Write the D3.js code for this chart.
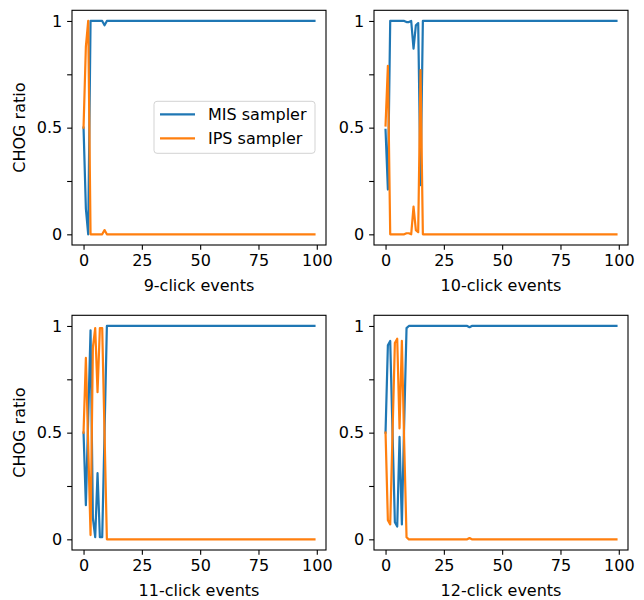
<!DOCTYPE html>
<html>
<head>
<meta charset="utf-8">
<script src="https://cdn.jsdelivr.net/npm/d3@7"></script>
<style>
  body { margin: 0; background: white; }
  text { font-family: "DejaVu Sans", sans-serif; }
</style>
</head>
<body>
<svg id="chart"></svg>
<script>
// CHOG ratio per event index (0..99)
let mis9 = [
  0.5, 0.12, 0, 1, 1, 1, 1, 1, 1, 0.98, 1, 1, 1, 1, 1, 1, 1, 1, 1, 1,
  1, 1, 1, 1, 1, 1, 1, 1, 1, 1, 1, 1, 1, 1, 1, 1, 1, 1, 1, 1,
  1, 1, 1, 1, 1, 1, 1, 1, 1, 1, 1, 1, 1, 1, 1, 1, 1, 1, 1, 1,
  1, 1, 1, 1, 1, 1, 1, 1, 1, 1, 1, 1, 1, 1, 1, 1, 1, 1, 1, 1,
  1, 1, 1, 1, 1, 1, 1, 1, 1, 1, 1, 1, 1, 1, 1, 1, 1, 1, 1, 1
]
let ips9 = [
  0.5, 0.88, 1, 0, 0, 0, 0, 0, 0, 0.02, 0, 0, 0, 0, 0, 0, 0, 0, 0, 0,
  0, 0, 0, 0, 0, 0, 0, 0, 0, 0, 0, 0, 0, 0, 0, 0, 0, 0, 0, 0,
  0, 0, 0, 0, 0, 0, 0, 0, 0, 0, 0, 0, 0, 0, 0, 0, 0, 0, 0, 0,
  0, 0, 0, 0, 0, 0, 0, 0, 0, 0, 0, 0, 0, 0, 0, 0, 0, 0, 0, 0,
  0, 0, 0, 0, 0, 0, 0, 0, 0, 0, 0, 0, 0, 0, 0, 0, 0, 0, 0, 0
]
let mis10 = [
  0.49, 0.21, 1, 1, 1, 1, 1, 1, 1, 0.995, 0.995, 1, 0.87, 0.98, 0.99, 0.23, 1, 1, 1, 1,
  1, 1, 1, 1, 1, 1, 1, 1, 1, 1, 1, 1, 1, 1, 1, 1, 1, 1, 1, 1,
  1, 1, 1, 1, 1, 1, 1, 1, 1, 1, 1, 1, 1, 1, 1, 1, 1, 1, 1, 1,
  1, 1, 1, 1, 1, 1, 1, 1, 1, 1, 1, 1, 1, 1, 1, 1, 1, 1, 1, 1,
  1, 1, 1, 1, 1, 1, 1, 1, 1, 1, 1, 1, 1, 1, 1, 1, 1, 1, 1, 1
]
let ips10 = [
  0.51, 0.79, 0, 0, 0, 0, 0, 0, 0, 0.005, 0.005, 0, 0.13, 0.02, 0.01, 0.77, 0, 0, 0, 0,
  0, 0, 0, 0, 0, 0, 0, 0, 0, 0, 0, 0, 0, 0, 0, 0, 0, 0, 0, 0,
  0, 0, 0, 0, 0, 0, 0, 0, 0, 0, 0, 0, 0, 0, 0, 0, 0, 0, 0, 0,
  0, 0, 0, 0, 0, 0, 0, 0, 0, 0, 0, 0, 0, 0, 0, 0, 0, 0, 0, 0,
  0, 0, 0, 0, 0, 0, 0, 0, 0, 0, 0, 0, 0, 0, 0, 0, 0, 0, 0, 0
]
let mis11 = [
  0.5, 0.16, 0.57, 0.98, 0.1, 0.01, 0.31, 0.01, 0.01, 0.5, 1, 1, 1, 1, 1, 1, 1, 1, 1, 1,
  1, 1, 1, 1, 1, 1, 1, 1, 1, 1, 1, 1, 1, 1, 1, 1, 1, 1, 1, 1,
  1, 1, 1, 1, 1, 1, 1, 1, 1, 1, 1, 1, 1, 1, 1, 1, 1, 1, 1, 1,
  1, 1, 1, 1, 1, 1, 1, 1, 1, 1, 1, 1, 1, 1, 1, 1, 1, 1, 1, 1,
  1, 1, 1, 1, 1, 1, 1, 1, 1, 1, 1, 1, 1, 1, 1, 1, 1, 1, 1, 1
]
let ips11 = [
  0.5, 0.85, 0.44, 0.02, 0.9, 0.99, 0.69, 0.99, 0.99, 0.5, 0, 0, 0, 0, 0, 0, 0, 0, 0, 0,
  0, 0, 0, 0, 0, 0, 0, 0, 0, 0, 0, 0, 0, 0, 0, 0, 0, 0, 0, 0,
  0, 0, 0, 0, 0, 0, 0, 0, 0, 0, 0, 0, 0, 0, 0, 0, 0, 0, 0, 0,
  0, 0, 0, 0, 0, 0, 0, 0, 0, 0, 0, 0, 0, 0, 0, 0, 0, 0, 0, 0,
  0, 0, 0, 0, 0, 0, 0, 0, 0, 0, 0, 0, 0, 0, 0, 0, 0, 0, 0, 0
]
let mis12 = [
  0.5, 0.91, 0.93, 0.5, 0.08, 0.06, 0.48, 0.07, 0.55, 0.99, 1, 1, 1, 1, 1, 1, 1, 1, 1, 1,
  1, 1, 1, 1, 1, 1, 1, 1, 1, 1, 1, 1, 1, 1, 1, 1, 0.994, 1, 1, 1,
  1, 1, 1, 1, 1, 1, 1, 1, 1, 1, 1, 1, 1, 1, 1, 1, 1, 1, 1, 1,
  1, 1, 1, 1, 1, 1, 1, 1, 1, 1, 1, 1, 1, 1, 1, 1, 1, 1, 1, 1,
  1, 1, 1, 1, 1, 1, 1, 1, 1, 1, 1, 1, 1, 1, 1, 1, 1, 1, 1, 1
]
let ips12 = [
  0.5, 0.09, 0.07, 0.5, 0.92, 0.94, 0.52, 0.93, 0.45, 0.01, 0, 0, 0, 0, 0, 0, 0, 0, 0, 0,
  0, 0, 0, 0, 0, 0, 0, 0, 0, 0, 0, 0, 0, 0, 0, 0, 0.006, 0, 0, 0,
  0, 0, 0, 0, 0, 0, 0, 0, 0, 0, 0, 0, 0, 0, 0, 0, 0, 0, 0, 0,
  0, 0, 0, 0, 0, 0, 0, 0, 0, 0, 0, 0, 0, 0, 0, 0, 0, 0, 0, 0,
  0, 0, 0, 0, 0, 0, 0, 0, 0, 0, 0, 0, 0, 0, 0, 0, 0, 0, 0, 0
]

let seriesNames = ['MIS sampler', 'IPS sampler']
let panelLabels = ['9-click events', '10-click events', '11-click events', '12-click events']
let xTickValues = [0, 25, 50, 75, 100]
let yTickValues = [0, 0.25, 0.5, 0.75, 1]
let yTickLabels = ['0', '', '0.5', '', '1']
let yLabel = 'CHOG ratio'

let colors = ['#1f77b4', '#ff7f0e']
let fontSize = 16

let panels = [
  {mis: mis9, ips: ips9, label: panelLabels[0], left: 72, top: 10.3, ylab: true, legend: true},
  {mis: mis10, ips: ips10, label: panelLabels[1], left: 374, top: 10.3},
  {mis: mis11, ips: ips11, label: panelLabels[2], left: 72, top: 315.3, ylab: true},
  {mis: mis12, ips: ips12, label: panelLabels[3], left: 374, top: 315.3}
]

let W = 254
let H = 234.7
let tickLen = 4.86

let svg = d3.select('#chart')
  .attr('width', 644)
  .attr('height', 600)

let x = d3.scaleLinear().domain([-4.95, 103.95]).range([0, W])
let y = d3.scaleLinear().domain([-0.05, 1.05]).range([H, 0])

let line = d3.line()
  .x((d, i) => x(i))
  .y(d => y(d))

panels.forEach(p => {
  let g = svg.append('g').attr('transform', `translate(${p.left},${p.top})`)

  // the two series, IPS drawn on top
  g.selectAll('.series').data([p.mis, p.ips])
    .enter().append('path')
    .attr('class', 'series')
    .attr('d', line)
    .attr('fill', 'none')
    .attr('stroke', (d, i) => colors[i])
    .attr('stroke-width', 2.2)
    .attr('stroke-linejoin', 'round')
    .attr('stroke-linecap', 'square')

  // axes
  let xAxis = g.append('g')
    .attr('transform', `translate(0,${H})`)
    .call(d3.axisBottom(x).tickValues(xTickValues).tickSize(tickLen).tickPadding(4.5))
  let yAxis = g.append('g')
    .call(d3.axisLeft(y).tickValues(yTickValues).tickSize(tickLen).tickPadding(tickLen)
      .tickFormat((d, i) => yTickLabels[i]))

  ;[xAxis, yAxis].forEach(a => {
    a.select('.domain').remove()
    a.selectAll('line').attr('stroke', 'black').attr('stroke-width', 1.1)
    a.selectAll('text').attr('font-size', fontSize).attr('fill', 'black')
      .style('font-family', '"DejaVu Sans", sans-serif')
  })

  // spines
  g.append('rect')
    .attr('x', 0).attr('y', 0)
    .attr('width', W).attr('height', H)
    .attr('fill', 'none')
    .attr('stroke', 'black')
    .attr('stroke-width', 1.1)

  g.append('text')
    .attr('x', W / 2)
    .attr('y', H + 46)
    .attr('text-anchor', 'middle')
    .attr('font-size', fontSize)
    .text(p.label)

  if (p.ylab) {
    g.append('text')
      .attr('transform', `translate(-47,${H / 2}) rotate(-90)`)
      .attr('text-anchor', 'middle')
      .attr('font-size', fontSize)
      .text(yLabel)
  }

  if (p.legend) {
    let lg = g.append('g').attr('transform', 'translate(82,91)')
    lg.append('rect')
      .attr('width', 161).attr('height', 52)
      .attr('rx', 3)
      .attr('fill', 'white').attr('fill-opacity', 0.8)
      .attr('stroke', '#d3d3d3')
    let rows = lg.selectAll('.entry').data(seriesNames)
      .enter().append('g')
      .attr('class', 'entry')
      .attr('transform', (d, i) => `translate(0,${13 + i * 24})`)
    rows.append('line')
      .attr('x1', 6).attr('x2', 41)
      .attr('stroke', (d, i) => colors[i])
      .attr('stroke-width', 2.2)
    rows.append('text')
      .attr('x', 54)
      .attr('dy', '0.36em')
      .attr('font-size', fontSize)
      .text(d => d)
  }
})
</script>
</body>
</html>
